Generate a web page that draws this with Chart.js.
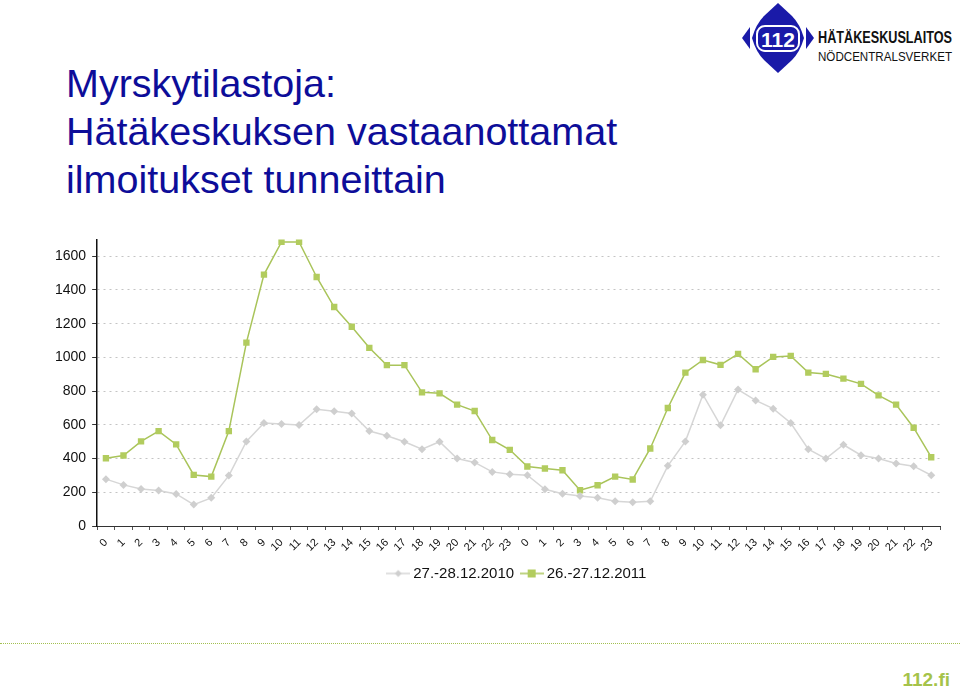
<!DOCTYPE html>
<html>
<head>
<meta charset="utf-8">
<script src="https://cdn.jsdelivr.net/npm/chart.js@4.4.1/dist/chart.umd.min.js"></script>
<style>
  html, body { margin: 0; padding: 0; background: #fff; }
  body { width: 960px; height: 693px; position: relative; overflow: hidden; font-family: "Liberation Sans", Arial, sans-serif; }
  #title { position: absolute; left: 66px; top: 59px; color: #0d0d99; font-size: 39.5px; line-height: 48px; white-space: nowrap; }
  #logo { position: absolute; left: 738px; top: 2px; }
  #chartBox { position: absolute; left: 0; top: 225px; width: 960px; height: 370px; }
  #footerLine { position: absolute; left: 0; top: 643px; width: 960px; border-top: 1px dotted #a3c050; }
  #site { position: absolute; right: 10px; top: 669px; color: #a5c34a; font-weight: bold; font-size: 19px; font-family: "Liberation Sans Narrow", "Liberation Sans", Arial, sans-serif; }
</style>
</head>
<body>
<div id="title">Myrskytilastoja:<br>Hätäkeskuksen vastaanottamat<br>ilmoitukset tunneittain</div>

<svg id="logo" width="222" height="74" viewBox="0 0 222 74">
  <path d="M40 1 L54 14 Q62 22 66 36 Q62 50 54 58 L40 71 L26 58 Q18 50 14 36 Q18 22 26 14 Z" fill="#1a1aa8"/>
  <path d="M4 36 L12 25 L12 47 Z" fill="#1a1aa8"/>
  <path d="M76 36 L68 25 L68 47 Z" fill="#1a1aa8"/>
  <rect x="19" y="24" width="42" height="25" rx="8" fill="none" stroke="#fff" stroke-width="2"/>
  <text x="40" y="45" text-anchor="middle" fill="#fff" font-family="Liberation Sans, Arial" font-weight="bold" font-size="21">112</text>
  <text x="80" y="41" fill="#111" font-family="Liberation Sans, Arial" font-weight="bold" font-size="16" textLength="134" lengthAdjust="spacingAndGlyphs">HÄTÄKESKUSLAITOS</text>
  <text x="80" y="59" fill="#111" font-family="Liberation Sans, Arial" font-size="13" textLength="134" lengthAdjust="spacingAndGlyphs">NÖDCENTRALSVERKET</text>
</svg>

<div id="chartBox"><canvas id="stormChart"></canvas></div>
<div id="footerLine"></div>
<div id="site">112.fi</div>

<script>
// tunnit 0-23 kahdelta peräkkäiseltä päivältä
const hourLabels = [
    '0','1','2','3','4','5','6','7','8','9','10','11','12','13','14','15','16','17','18','19','20','21','22','23',
    '0','1','2','3','4','5','6','7','8','9','10','11','12','13','14','15','16','17','18','19','20','21','22','23'
];
const seriesNames = ['27.-28.12.2010', '26.-27.12.2011'];
const calls2010 = [
    278, 244, 220, 210, 190, 127, 167, 299, 502, 611, 605, 599, 692, 680, 668, 563, 535, 500, 456, 500, 400, 377, 321, 307,
    301, 218, 192, 178, 167, 147, 141, 147, 357, 502, 779, 597, 809, 745, 696, 611, 456, 400, 482, 420, 400, 371, 355, 301
];
const calls2011 = [
    402, 418, 502, 563, 484, 303, 293, 563, 1088, 1491, 1685, 1685, 1477, 1299, 1182, 1057, 954, 954, 793, 787, 720, 682, 510, 452,
    353, 341, 331, 212, 242, 293, 276, 460, 700, 910, 985, 956, 1021, 930, 1003, 1009, 910, 902, 874, 843, 775, 720, 583, 408
];
const yTicks = [0, 200, 400, 600, 800, 1000, 1200, 1400, 1600];

const grayLine = '#d6d6d6';
const grayMark = '#cfcfcf';
const greenLine = '#a9c45a';
const greenMark = '#b2cc5e';

// legendan pieni kuva: viiva + merkki
function legendIcon(lineColor, markColor, square) {
    const c = document.createElement('canvas');
    c.width = 24; c.height = 10;
    const g = c.getContext('2d');
    g.strokeStyle = lineColor; g.lineWidth = 1.5;
    g.beginPath(); g.moveTo(0, 5); g.lineTo(24, 5); g.stroke();
    g.fillStyle = markColor;
    if (square) {
        g.fillRect(8, 1, 8, 8);
    } else {
        g.beginPath(); g.moveTo(12, 1.5); g.lineTo(15.5, 5); g.lineTo(12, 8.5); g.lineTo(8.5, 5); g.closePath(); g.fill();
    }
    return c;
}
const icons = [legendIcon(grayLine, grayMark, false), legendIcon(greenLine, greenMark, true)];

// legenda keskitetään piirtoalueen kohdalle, kuten Excelissä
const legendOverPlot = {
    id: 'legendOverPlot',
    afterLayout(chart) {
        const lg = chart.legend;
        if (!lg) return;
        lg.left = chart.chartArea.left;
        lg.right = chart.chartArea.right;
        lg.top -= 4;
        lg.bottom -= 4;
    }
};

new Chart(document.getElementById('stormChart'), {
    type: 'line',
    data: {
        labels: hourLabels,
        datasets: [
            { label: seriesNames[0], data: calls2010, borderColor: grayLine, backgroundColor: grayMark, borderWidth: 1.5,
              pointStyle: 'rectRot', pointRadius: 4, pointBorderWidth: 0, tension: 0 },
            { label: seriesNames[1], data: calls2011, borderColor: greenLine, backgroundColor: greenMark, borderWidth: 1.5,
              pointStyle: 'rect', pointRadius: 4.5, pointBorderWidth: 0, tension: 0 }
        ]
    },
    options: {
        responsive: true,
        maintainAspectRatio: false,
        animation: false,
        layout: { padding: { left: 49, right: 20, top: 14, bottom: 0 } },
        plugins: {
            tooltip: { enabled: false },
            legend: {
                position: 'bottom',
                labels: {
                    usePointStyle: true,
                    color: '#111',
                    font: { family: 'Liberation Sans, Arial', size: 15 },
                    padding: 10,
                    generateLabels: chart => chart.data.datasets.map((ds, i) => ({
                        text: ds.label, pointStyle: icons[i], datasetIndex: i,
                        fillStyle: ds.backgroundColor, strokeStyle: ds.borderColor, lineWidth: 0, fontColor: '#111'
                    }))
                }
            }
        },
        scales: {
            x: {
                offset: true,
                grid: { display: true, drawOnChartArea: false, offset: true, tickLength: 4, color: '#555' },
                border: { color: '#333', width: 1 },
                ticks: { autoSkip: false, minRotation: 45, maxRotation: 45, color: '#111', padding: 6,
                         font: { family: 'Liberation Sans, Arial', size: 11 } }
            },
            y: {
                min: 0, max: 1700,
                afterBuildTicks: axis => { axis.ticks = yTicks.map(v => ({ value: v })); },
                grid: { color: '#c4c4c4', tickColor: '#333', tickLength: 5, tickBorderDash: [] },
                border: { color: '#111', width: 1.5, dash: [2, 4] },
                ticks: { color: '#111', padding: 6, font: { family: 'Liberation Sans, Arial', size: 14 },
                         callback: v => String(v) }
            }
        }
    },
    plugins: [legendOverPlot]
});
</script>
</body>
</html>
